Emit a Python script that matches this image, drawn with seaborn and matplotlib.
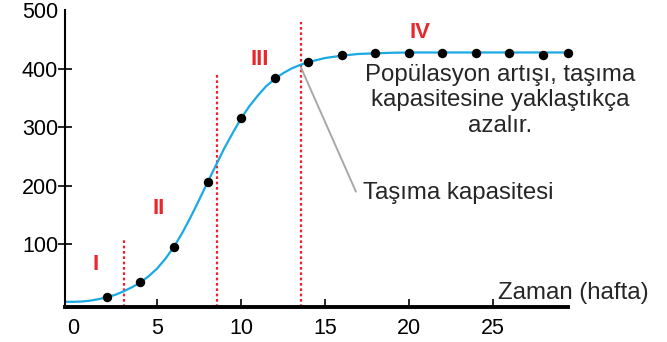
import matplotlib
matplotlib.use("Agg")
import matplotlib.pyplot as plt
import seaborn as sns
import pandas as pd

# Measured population (dots)
weeks = [2, 4, 6, 8, 10, 12, 14, 16, 18, 20, 22, 24, 26, 28, 29.5]
population = [10, 35, 96, 206, 315, 384, 412, 423, 427, 427, 427, 427, 427, 423, 427]

# Smooth growth curve
curve_t = [-0.5, 0, 0.5, 1, 1.5, 2, 2.5, 3, 3.5, 4, 4.5, 5, 5.5, 6, 6.5, 7, 7.5, 8,
           8.5, 9, 9.5, 10, 10.5, 11, 11.5, 12, 12.5, 13, 13.5, 14, 15, 16,
           17, 18, 19, 20, 22, 24, 26, 28, 29.5]
curve_n = [2, 2, 2.5, 4, 6.5, 10, 14, 20, 27, 35, 46, 59, 76, 96, 120, 147, 176, 206,
           235, 264, 290, 315, 336, 354, 370, 382, 392, 400, 406, 411, 418, 422,
           425, 426, 427, 427.5, 427.5, 427.5, 427.5, 427.5, 427.5]

# Phase boundaries (x position, top of the dotted line)
phase_x = [3.0, 8.55, 13.57]
phase_top = [107, 390, 480]
phase_labels = ["I", "II", "III", "IV"]
phase_label_x = [1.3, 5.1, 11.1, 20.65]
phase_label_y = [65, 162, 415, 462]

x_ticks = [0, 5, 10, 15, 20, 25]
y_ticks = [100, 200, 300, 400, 500]

sns.set_theme(style="ticks")
plt.rcParams["font.family"] = ["Liberation Sans", "DejaVu Sans"]

fig = plt.figure(figsize=(6.67, 3.42), dpi=100)
ax = fig.add_axes([0.0975, 0.1038, 0.8516 - 0.0975, 0.9708 - 0.1038])

curve_df = pd.DataFrame({"t": curve_t, "n": curve_n})
dots_df = pd.DataFrame({"t": weeks, "n": population})

sns.lineplot(data=curve_df, x="t", y="n", ax=ax, color="#1aa9e2", linewidth=1.6,
             zorder=2, clip_on=False)
sns.scatterplot(data=dots_df, x="t", y="n", ax=ax, color="black", s=46,
                edgecolor="black", linewidth=0, zorder=3, clip_on=False)

red = "#e8262b"
for x, top in zip(phase_x, phase_top):
    ax.plot([x, x], [-6, top], color=red, linestyle=(0, (1.2, 1.2)),
            linewidth=1.6, zorder=1, clip_on=False)

for lab, lx, ly in zip(phase_labels, phase_label_x, phase_label_y):
    ax.text(lx, ly, lab, color=red, fontsize=16, fontweight="bold",
            ha="center", va="center")

# Carrying capacity pointer
ax.plot([13.57, 16.85], [402, 190], color="#a8a8a8", linewidth=1.4, zorder=1)
ax.text(17.27, 188, "Taşıma kapasitesi", fontsize=17.3, ha="left", va="center")
ax.text(25.44, 346, "Popülasyon artışı, taşıma\nkapasitesine yaklaştıkça\nazalır.",
        fontsize=17.3, ha="center", va="center", linespacing=1.2)
ax.text(25.32, 17, "Zaman (hafta)", fontsize=17.3, ha="left", va="center",
        clip_on=False)

ax.set_xlim(-0.5, 29.5)
ax.set_ylim(-6, 500)
ax.set_xticks(x_ticks)
ax.set_yticks(y_ticks)
ax.set_xlabel("")
ax.set_ylabel("")

for side in ["top", "right"]:
    ax.spines[side].set_visible(False)
ax.spines["left"].set_linewidth(1.5)
ax.spines["bottom"].set_linewidth(2.8)
ax.spines["left"].set_color("black")
ax.spines["bottom"].set_color("black")

ax.tick_params(axis="x", direction="in", length=6, width=1.2, pad=8,
               labelsize=15.5, colors="black")
ax.tick_params(axis="y", direction="inout", length=10, width=1.2, pad=0,
               labelsize=15.5, colors="black")
ax.xaxis.get_major_ticks()[0].tick1line.set_visible(False)
ax.yaxis.get_major_ticks()[-1].tick1line.set_visible(False)

fig.savefig("out.png", dpi=100)
